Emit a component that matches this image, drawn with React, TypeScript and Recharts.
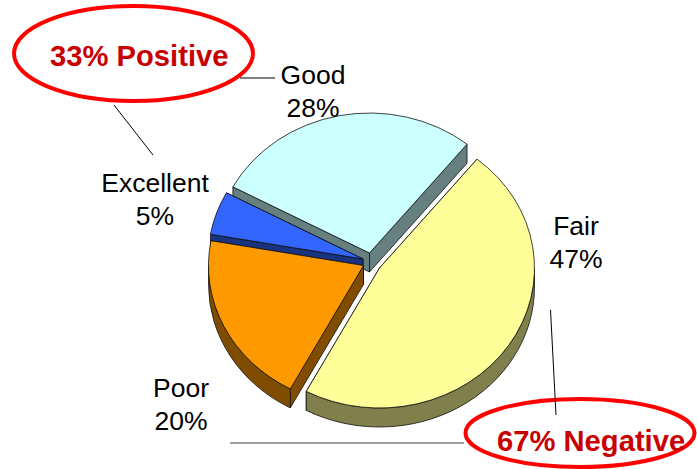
// 3D style pie with two callouts, drawn with a custom Pie shape
import React from "react";
import { PieChart, Pie, Customized } from "recharts";

// drawn back to front, counter clockwise from the Fair/Good boundary
const categories = ["Good", "Excellent", "Poor", "Fair"];
const values = [28, 5, 20, 47];
const topColors = ["#CCFFFF", "#3366FF", "#FF9900", "#FFFF99"];
const sideColors = ["#668080", "#1A3380", "#804D00", "#80804D"];

// how far each slice is pulled out of the pie, in pixels
const explodeX = [6.5, 0, 0.5, 16.5];
const explodeY = [-12, -6, 0.5, 3];
// where the category labels sit: centre x, first baseline
const labelX = [313, 155, 181, 576];
const labelY = [84, 192, 397, 235];

const WIDTH = 697;
const HEIGHT = 469;
const RX = 155;
const RY = 140;
const DEPTH = 19;
const FONT = "'Liberation Sans', Arial, sans-serif";
const EDGE = "#111";

const chartData = categories.map((name, i) => ({
  name,
  value: values[i],
  fill: topColors[i],
}));

const rad = (deg: number) => (deg * Math.PI) / 180;

const Slice3D = (props: any) => {
  const { cx, cy, startAngle, endAngle, name } = props;
  const i = categories.indexOf(name);
  const x0 = cx + explodeX[i];
  const y0 = cy + explodeY[i];
  const at = (deg: number, drop = 0) => ({
    x: x0 + RX * Math.cos(rad(deg)),
    y: y0 - RY * Math.sin(rad(deg)) + drop,
  });
  const a = at(startAngle);
  const b = at(endAngle);
  const large = endAngle - startAngle > 180 ? 1 : 0;
  const top = `M${x0},${y0} L${a.x},${a.y} A${RX},${RY} 0 ${large} 0 ${b.x},${b.y} Z`;
  const wall = (p: { x: number; y: number }) =>
    `M${x0},${y0} L${p.x},${p.y} L${p.x},${p.y + DEPTH} L${x0},${y0 + DEPTH} Z`;

  // outer rim only shows on the front half of the ellipse
  const rimFrom = Math.max(startAngle, 180);
  const rimTo = Math.min(endAngle, 360);
  let rim = "";
  if (rimTo > rimFrom) {
    const r0 = at(rimFrom);
    const r1 = at(rimTo);
    rim =
      `M${r0.x},${r0.y} A${RX},${RY} 0 0 0 ${r1.x},${r1.y} ` +
      `L${r1.x},${r1.y + DEPTH} A${RX},${RY} 0 0 1 ${r0.x},${r0.y + DEPTH} Z`;
  }

  const side = { fill: sideColors[i], stroke: EDGE, strokeWidth: 0.8 };
  return (
    <g>
      <path d={wall(a)} {...side} />
      <path d={wall(b)} {...side} />
      {rim && <path d={rim} {...side} />}
      <path d={top} fill={topColors[i]} stroke={EDGE} strokeWidth={0.8} />
    </g>
  );
};

const SliceLabel = (props: any) => {
  const i = categories.indexOf(props.name);
  return (
    <text
      textAnchor="middle"
      fontFamily={FONT}
      fontSize={26.5}
      fill="#000"
    >
      <tspan x={labelX[i]} y={labelY[i]}>
        {props.name}
      </tspan>
      <tspan x={labelX[i]} y={labelY[i] + 33}>
        {values[i]}%
      </tspan>
    </text>
  );
};

const Callouts = () => (
  <g fontFamily={FONT} fontWeight="bold" fontSize={29.2} fill="#C80000">
    <ellipse cx={133.5} cy={53.5} rx={119.5} ry={47.5} fill="none" stroke="#F00" strokeWidth={4} />
    <ellipse cx={580} cy={433} rx={114.5} ry={34} fill="none" stroke="#F00" strokeWidth={4} />
    <line x1={230} y1={443} x2={464} y2={443} stroke="#808080" strokeWidth={1.5} />
    <line x1={240} y1={78} x2={275} y2={78} stroke="#000" strokeWidth={1} />
    <line x1={114} y1={105} x2={153} y2={155} stroke="#000" strokeWidth={1} />
    <line x1={550.5} y1={310} x2={556} y2={415} stroke="#000" strokeWidth={1} />
    <text x={50} y={66}>33% Positive</text>
    <text x={497} y={451}>67% Negative</text>
  </g>
);

export default function App() {
  return (
    <div style={{ position: "absolute", left: 0, top: 0, width: WIDTH, height: HEIGHT, background: "#fff" }}>
      <PieChart width={WIDTH} height={HEIGHT} margin={{ top: 0, right: 0, bottom: 0, left: 0 }}>
        <Pie
          data={chartData}
          dataKey="value"
          nameKey="name"
          cx={363}
          cy={265}
          innerRadius={0}
          outerRadius={RX}
          startAngle={51}
          endAngle={411}
          shape={Slice3D}
          label={SliceLabel}
          labelLine={false}
          isAnimationActive={false}
        />
        <Customized component={Callouts} />
      </PieChart>
    </div>
  );
}
